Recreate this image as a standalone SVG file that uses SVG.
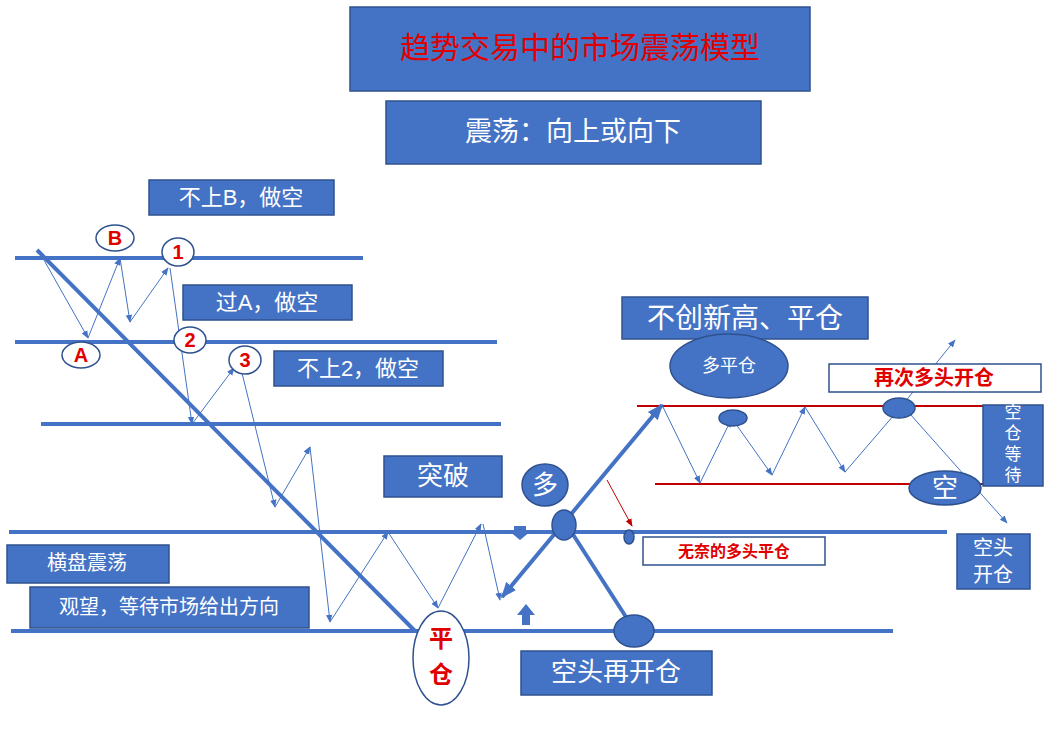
<svg xmlns="http://www.w3.org/2000/svg" width="1046" height="750" viewBox="0 0 1046 750">
<defs>
<marker id="a" viewBox="0 0 10 10" refX="9" refY="5" markerWidth="8" markerHeight="8" orient="auto-start-reverse"><path d="M0,1 L10,5 L0,9 z" fill="#4472c4"/></marker>
<marker id="ab" viewBox="0 0 10 10" refX="9" refY="5" markerWidth="4" markerHeight="4" orient="auto-start-reverse"><path d="M0,1 L10,5 L0,9 z" fill="#4472c4"/></marker>
<marker id="ar" viewBox="0 0 10 10" refX="9" refY="5" markerWidth="8" markerHeight="8" orient="auto"><path d="M0,1 L10,5 L0,9 z" fill="#c00000"/></marker>
</defs>
<style>
text{font-family:"Liberation Sans","Noto Sans CJK SC",sans-serif;text-anchor:middle;dominant-baseline:central}
.b{fill:#4472c4;stroke:#2f528f;stroke-width:1.5}
.w{fill:#fff}
.r{fill:#e00000;font-weight:bold}
.wb{fill:#fff;stroke:#2f528f;stroke-width:1.5}
.h{stroke:#4472c4;stroke-width:4;fill:none}
.t{stroke:#4472c4;stroke-width:1;fill:none;marker-end:url(#a)}
.rl{stroke:#c00000;stroke-width:2}
.c{fill:#fff;stroke:#2f528f;stroke-width:1.5}
</style>
<rect width="1046" height="750" fill="#fff"/>
<g id="connectors">
<line class="h" x1="15" y1="258" x2="363" y2="258"/>
<line class="h" x1="15" y1="342" x2="497" y2="342"/>
<line class="h" x1="41" y1="424" x2="501" y2="424"/>
<line class="h" x1="9" y1="532" x2="947" y2="532"/>
<line class="h" x1="11" y1="631" x2="893" y2="631"/>
<line class="h" x1="37" y1="250" x2="415" y2="631" stroke-width="5"/>
<line class="rl" x1="637" y1="406" x2="985" y2="406"/>
<line class="rl" x1="655" y1="484" x2="985" y2="484"/>
<path class="t" d="M40,253 L88,338"/>
<path class="t" d="M88,338 L120,258"/>
<path class="t" d="M120,258 L130,322"/>
<path class="t" d="M130,322 L168,268"/>
<path class="t" d="M170,268 L192,424"/>
<path class="t" d="M192,424 L234,368"/>
<path class="t" d="M242,373 L275,507"/>
<path class="t" d="M275,507 L310,447"/>
<path class="t" d="M310,447 L330,622"/>
<path class="t" d="M330,622 L388,532"/>
<path class="t" d="M388,532 L438,608"/>
<path class="t" d="M438,608 L481,524"/>
<path class="t" d="M483,524 L500,600"/>
<path class="h" d="M502,597 L662,405" marker-start="url(#ab)" marker-end="url(#ab)"/>
<path class="h" d="M565,522 L635,631"/>
<path class="t" d="M662,405 L700,483"/>
<path class="t" d="M700,483 L731,420"/>
<path class="t" d="M733,420 L772,475"/>
<path class="t" d="M772,475 L805,407"/>
<path class="t" d="M805,407 L845,472"/>
<path class="t" d="M845,472 L900,408"/>
<path class="t" d="M900,408 L955,340"/>
<path class="t" d="M910,414 L1007,523"/>
<line x1="607" y1="480" x2="632" y2="526" stroke="#c00000" stroke-width="1" marker-end="url(#ar)"/>
<path d="M514,526 h12 v5 h5 l-11,9 l-11,-9 h5 z" fill="#4472c4"/>
<path d="M522,625 v-10 h-5 l9,-11 l9,11 h-5 v10 z" fill="#4472c4"/>
</g>
<g id="title"><rect class="b" x="350" y="7" width="460" height="84"/><text x="580" y="47" font-size="30" fill="#e00000">趋势交易中的市场震荡模型</text></g>
<g id="sub"><rect class="b" x="386" y="101" width="375" height="63"/><text x="573" y="132" font-size="27" class="w">震荡：向上或向下</text></g>
<g id="n1"><rect class="b" x="149" y="180" width="185" height="35"/><text x="241" y="197" font-size="22" class="w">不上B，做空</text></g>
<g id="n2"><rect class="b" x="183" y="285" width="169" height="35"/><text x="267" y="302" font-size="22" class="w">过A，做空</text></g>
<g id="n3"><rect class="b" x="274" y="351" width="169" height="35"/><text x="358" y="368" font-size="22" class="w">不上2，做空</text></g>
<g id="cB"><ellipse class="c" cx="115" cy="238" rx="19" ry="13"/><text x="115" y="238" font-size="20" class="r">B</text></g>
<g id="c1"><ellipse class="c" cx="178" cy="252" rx="16" ry="14"/><text x="178" y="252" font-size="20" class="r">1</text></g>
<g id="cA"><ellipse class="c" cx="81" cy="355" rx="19" ry="13"/><text x="81" y="355" font-size="20" class="r">A</text></g>
<g id="c2"><ellipse class="c" cx="190" cy="340" rx="16" ry="13"/><text x="190" y="340" font-size="20" class="r">2</text></g>
<g id="c3"><ellipse class="c" cx="245" cy="360" rx="16" ry="14"/><text x="245" y="360" font-size="20" class="r">3</text></g>
<g id="tupo"><rect class="b" x="384" y="456" width="118" height="41"/><text x="443" y="476" font-size="26" class="w">突破</text></g>
<g id="duo"><ellipse class="b" cx="545" cy="485" rx="23" ry="21"/><text x="545" y="485" font-size="26" class="w">多</text></g>
<g id="e1"><ellipse class="b" cx="564" cy="525" rx="12" ry="15"/></g>
<g id="e2"><ellipse class="b" cx="634" cy="631" rx="20" ry="16"/></g>
<g id="e3"><ellipse class="b" cx="629" cy="537" rx="5" ry="7"/></g>
<g id="hp"><rect class="b" x="7" y="545" width="162" height="38"/><text x="87" y="563" font-size="20" class="w">横盘震荡</text></g>
<g id="gw"><rect class="b" x="30" y="587" width="279" height="41"/><text x="169" y="607" font-size="20" class="w">观望，等待市场给出方向</text></g>
<g id="pc"><ellipse class="c" cx="441" cy="658" rx="28" ry="47"/><text x="441" y="638" font-size="24" class="r" font-weight="normal">平</text><text x="441" y="674" font-size="24" class="r" font-weight="normal">仓</text></g>
<g id="ktzk"><rect class="b" x="521" y="651" width="191" height="44"/><text x="616" y="672" font-size="26" class="w">空头再开仓</text></g>
<g id="wn"><rect class="wb" x="643" y="537" width="182" height="28"/><text x="734" y="551" font-size="16" class="r">无奈的多头平仓</text></g>
<g id="bcx"><rect class="b" x="622" y="297" width="246" height="42"/><text x="745" y="318" font-size="28" class="w">不创新高、平仓</text></g>
<g id="dpc"><ellipse class="b" cx="729" cy="366" rx="59" ry="32"/><text x="729" y="366" font-size="18" class="w">多平仓</text></g>
<g id="e4"><ellipse class="b" cx="733" cy="418" rx="14" ry="8"/></g>
<g id="e5"><ellipse class="b" cx="899" cy="408" rx="16" ry="10"/></g>
<g id="zc"><rect class="wb" x="829" y="364" width="212" height="28"/><text x="934" y="378" font-size="20" class="r">再次多头开仓</text></g>
<g id="kcdd"><rect class="b" x="983" y="405" width="60" height="81"/><text x="1013" y="412" font-size="17" class="w">空</text><text x="1013" y="433" font-size="17" class="w">仓</text><text x="1013" y="454" font-size="17" class="w">等</text><text x="1013" y="475" font-size="17" class="w">待</text></g>
<g id="kong"><ellipse class="b" cx="945" cy="488" rx="36" ry="17"/><text x="945" y="488" font-size="26" class="w">空</text></g>
<g id="ktkc"><rect class="b" x="957" y="534" width="73" height="55"/><text x="993" y="548" font-size="20" class="w">空头</text><text x="993" y="575" font-size="20" class="w">开仓</text></g>
</svg>
